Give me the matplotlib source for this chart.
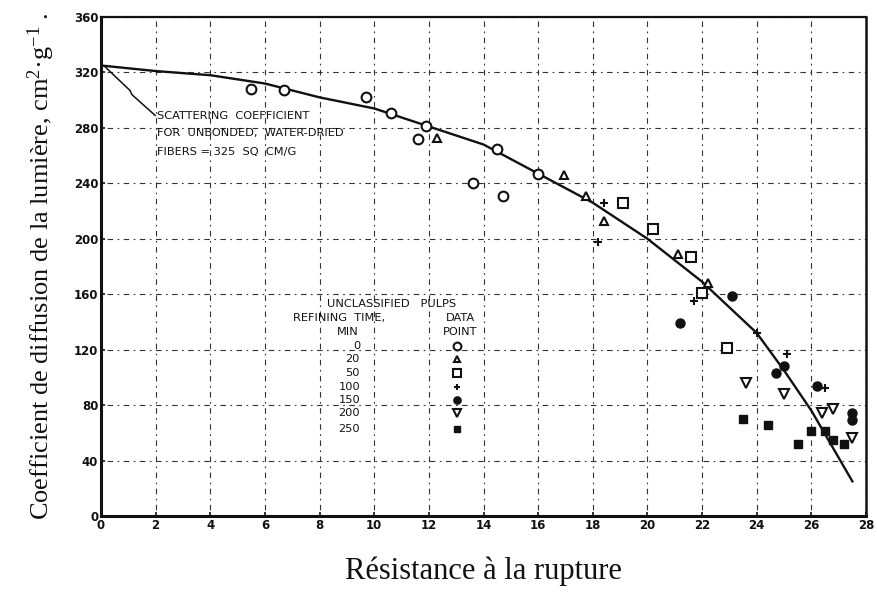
import matplotlib
matplotlib.use("Agg")
import matplotlib.pyplot as plt

plt.rcParams["mathtext.fontset"] = "custom"
plt.rcParams["mathtext.rm"] = "Liberation Serif"
plt.rcParams["mathtext.it"] = "Liberation Serif:italic"

# Fitted curve (tensile strength vs. scattering coefficient)
curve_x = [0, 2, 4, 6, 8, 10, 12, 14, 16, 18, 20, 22, 24, 25, 26, 27, 27.5]
curve_y = [325, 321, 318, 312, 302, 294, 281, 268, 247, 226, 200, 169, 132, 105, 76, 42, 25]

# Measurements, grouped by refining time (min)
t0_x = [5.5, 6.7, 9.7, 10.6, 11.6, 11.9, 13.6, 14.5, 14.7, 16.0]
t0_y = [308, 307, 302, 291, 272, 281, 240, 265, 231, 247]
t20_x = [12.3, 16.95, 17.75, 18.4, 21.1, 22.2]
t20_y = [273, 246, 231, 213, 189, 168]
t50_x = [19.1, 20.2, 21.6, 22.0, 22.9]
t50_y = [226, 207, 187, 161, 121]
t100_x = [18.4, 18.2, 21.7, 24.0, 25.1, 26.5]
t100_y = [226, 198, 155, 132, 117, 92]
t150_x = [21.2, 23.1, 24.7, 25.0, 26.2, 27.5, 27.5]
t150_y = [139, 159, 103, 108, 94, 74, 69]
t200_x = [23.6, 25.0, 26.4, 26.8, 27.5]
t200_y = [96, 88, 74, 77, 56]
t250_x = [23.5, 24.4, 25.5, 26.0, 26.5, 26.8, 27.2]
t250_y = [70, 66, 52, 61, 61, 55, 52]

refining_times = ["0", "20", "50", "100", "150", "200", "250"]

x_ticks = list(range(0, 29, 2))
y_ticks = list(range(0, 361, 40))

INK = "#111111"

fig = plt.figure(figsize=(8.77, 5.94), dpi=100)
ax = fig.add_axes([0.1152, 0.1313, 0.8723, 0.8401])

ax.set_xlim(0, 28)
ax.set_ylim(0, 360)
ax.set_xticks(x_ticks)
ax.set_yticks(y_ticks)
ax.set_xticklabels([str(v) for v in x_ticks])
ax.set_yticklabels([str(v) for v in y_ticks])
ax.tick_params(axis="both", length=3, width=1.2, direction="in", pad=2,
               labelsize=8.5, colors=INK)
for lab in ax.get_xticklabels() + ax.get_yticklabels():
    lab.set_fontweight("bold")

# hand-ruled looking grid
ax.grid(True, color="#333333", linewidth=0.8, linestyle=(0, (1.5, 4, 5, 4)))
ax.set_axisbelow(True)

for side, lw in (("left", 2.2), ("bottom", 2.2), ("top", 1.6), ("right", 1.8)):
    ax.spines[side].set_linewidth(lw)
    ax.spines[side].set_color(INK)

# fitted curve
ax.plot(curve_x, curve_y, color=INK, linewidth=1.7, zorder=3)

series = [
    (t0_x, t0_y, dict(marker="o", mfc="white", mec=INK, ms=7, mew=1.5)),
    (t20_x, t20_y, dict(marker="^", mfc="white", mec=INK, ms=6, mew=1.5)),
    (t50_x, t50_y, dict(marker="s", mfc="white", mec=INK, ms=6.5, mew=1.5)),
    (t100_x, t100_y, dict(marker="+", mfc="none", mec=INK, ms=6, mew=1.5)),
    (t150_x, t150_y, dict(marker="o", mfc=INK, mec=INK, ms=6.5, mew=1.0)),
    (t200_x, t200_y, dict(marker="v", mfc="white", mec=INK, ms=6.5, mew=1.5)),
    (t250_x, t250_y, dict(marker="s", mfc=INK, mec=INK, ms=5.5, mew=1.0)),
]
for xs, ys, style in series:
    ax.plot(xs, ys, linestyle="none", zorder=4, **style)

# key block
key_font = dict(fontsize=8.2, color=INK, family="DejaVu Sans")
ax.text(10.65, 153, "UNCLASSIFIED   PULPS", ha="center", va="center", **key_font)
ax.text(7.03, 142.5, "REFINING  TIME,", ha="left", va="center", **key_font)
ax.text(13.14, 142.5, "DATA", ha="center", va="center", **key_font)
ax.text(9.04, 133, "MIN", ha="center", va="center", **key_font)
ax.text(13.14, 133, "POINT", ha="center", va="center", **key_font)
key_rows = [123, 113, 103, 93, 84, 74, 63]
for label, row, (_, _, style) in zip(refining_times, key_rows, series):
    ax.text(9.48, row, label, ha="right", va="center", **key_font)
    st = dict(style)
    st["ms"] = st["ms"] * 0.8
    ax.plot([13.03], [row], linestyle="none", zorder=4, **st)

# leader and note about unbonded fibres
ax.plot([0.15, 1.06, 1.13, 1.98], [324, 307, 304, 289], color=INK, linewidth=1.1)
ax.text(2.05, 288.5, "SCATTERING  COEFFICIENT", ha="left", va="center", **key_font)
ax.text(2.05, 276, "FOR  UNBONDED,  WATER-DRIED", ha="left", va="center", **key_font)
ax.text(2.05, 262.5, "FIBERS = 325  SQ  CM/G", ha="left", va="center", **key_font)

ax.set_xlabel("Résistance à la rupture", family="Liberation Serif",
              fontsize=22, color=INK, labelpad=18)
ax.set_ylabel(r"Coefficient de diffusion de la lumière, cm$^{2}$·g$^{-1}$ .",
              family="Liberation Serif", fontsize=19, color=INK, labelpad=12)

fig.savefig("out.png", dpi=100, facecolor="white")
